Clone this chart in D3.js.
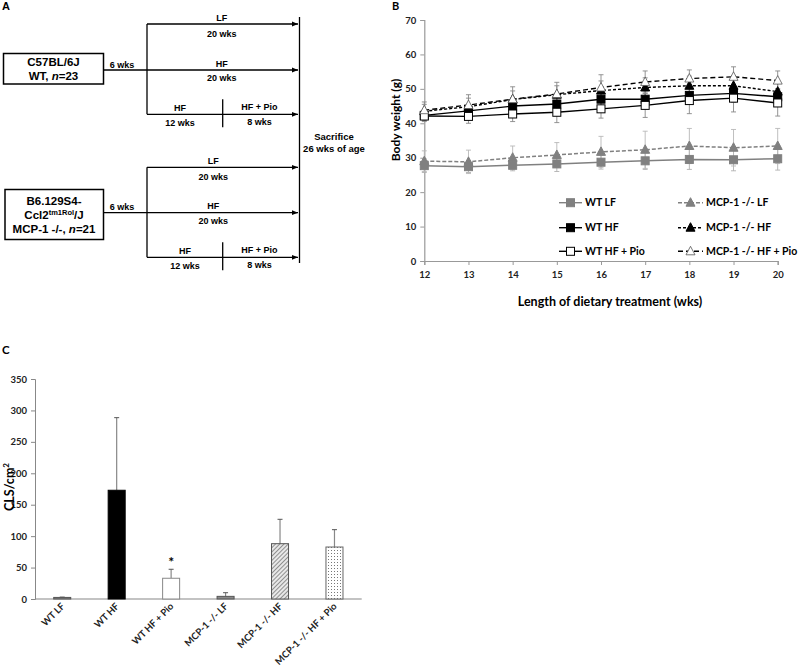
<!DOCTYPE html>
<html><head><meta charset="utf-8">
<script src="https://cdn.jsdelivr.net/npm/d3@7"></script>
<style>
body{margin:0;background:#fff;}
svg{display:block;}
.cal{font-family:Lato,"Open Sans",sans-serif;font-weight:bold;}
.ari{font-family:"Liberation Sans",Arial,sans-serif;font-weight:bold;}
</style></head>
<body>
<svg id="chart" width="800" height="667"></svg>
<script>
// ---------- DATA ----------
const weeks = [12,13,14,15,16,17,18,19,20];
const yTicksB = [0,10,20,30,40,50,60,70];
const wtLF       = [27.7,27.4,27.8,28.2,28.7,29.1,29.5,29.4,29.7];
const wtLFErr    = [2.0,1.7,1.6,2.2,2.0,2.5,2.9,3.2,3.3];
const mcpLF      = [29.0,28.8,30.0,30.8,31.7,32.3,33.4,32.9,33.4];
const mcpLFErr   = [3.0,3.4,3.4,3.6,4.5,5.4,5.1,5.3,5.1];
const wtHF       = [42.3,43.6,45.0,45.6,47.0,47.0,48.1,48.7,47.7];
const wtHFErr    = [1.5,1.6,1.8,2.0,2.2,2.4,2.5,2.6,2.4];
const wtHFPio    = [42.1,42.0,42.7,43.2,44.2,45.2,46.6,47.3,45.9];
const wtHFPioErr = [1.6,2.0,2.2,3.0,2.7,3.5,3.8,4.0,3.8];
const mcpHF      = [43.5,44.8,46.9,48.3,49.5,50.4,50.9,50.9,49.2];
const mcpHFErr   = [2.0,2.5,2.5,2.6,2.8,2.8,2.8,2.9,2.8];
const mcpHFPio   = [43.8,45.3,47.0,48.5,50.4,52.0,53.0,53.5,52.4];
const mcpHFPioErr= [2.4,3.0,3.6,3.4,3.7,3.2,2.5,2.9,2.8];
const seriesNames = ["WT LF","MCP-1 -/- LF","WT HF","MCP-1 -/- HF","WT HF + Pio","MCP-1 -/- HF + Pio"];

const groups = ["WT LF","WT HF","WT HF + Pio","MCP-1 -/- LF","MCP-1 -/- HF","MCP-1 -/- HF + Pio"];
const cls    = [2.5,173,33,4.2,88,82.7];
const clsErr = [0.5,115.5,14.3,5.8,38.8,27.6];
const yTicksC = [0,50,100,150,200,250,300,350];

// ---------- SETUP ----------
const svg = d3.select("#chart");
const defs = svg.append("defs");
defs.append("marker").attr("id","arr").attr("viewBox","0 0 10 10").attr("refX",10).attr("refY",5)
  .attr("markerWidth",5).attr("markerHeight",5).attr("orient","auto")
  .append("path").attr("d","M0,1L10,5L0,9z").attr("fill","#000");
const hatch = defs.append("pattern").attr("id","hatch").attr("patternUnits","userSpaceOnUse")
  .attr("width",3).attr("height",3).attr("patternTransform","rotate(45)");
hatch.append("rect").attr("width",3).attr("height",3).attr("fill","#e8e8e8");
hatch.append("line").attr("x1",0).attr("y1",0).attr("x2",0).attr("y2",3).attr("stroke","#555").attr("stroke-width",1.2);
const dots = defs.append("pattern").attr("id","dots").attr("patternUnits","userSpaceOnUse").attr("width",3).attr("height",3);
dots.append("rect").attr("width",3).attr("height",3).attr("fill","#fff");
dots.append("rect").attr("x",1).attr("y",1).attr("width",1).attr("height",1).attr("fill","#777");

// ---------- PANEL A ----------
const A = svg.append("g").attr("class","ari");
function t(g,x,y,s,size,anchor){return g.append("text").attr("x",x).attr("y",y).attr("font-size",size).attr("text-anchor",anchor||"middle").text(s);}
function ln(g,x1,y1,x2,y2,arrow){const l=g.append("line").attr("x1",x1).attr("y1",y1).attr("x2",x2).attr("y2",y2).attr("stroke","#000").attr("stroke-width",1.3); if(arrow) l.attr("marker-end","url(#arr)"); return l;}
t(A,2,10,"A",11,"start");
ln(A,299.5,17,299.5,263);
t(A,334,139.5,"Sacrifice",9.5);
t(A,334,151.5,"26 wks of age",9.5);
const fs=9;
function block(box, yTop, yMid, yBot, lfX, hfX, hf12X){
  A.append("rect").attr("x",box[0]).attr("y",box[1]).attr("width",box[2]).attr("height",box[3])
    .attr("fill","none").attr("stroke","#000").attr("stroke-width",1.5);
  ln(A,box[0]+box[2],yMid,147,yMid);
  t(A,122,yMid-2.5,"6 wks",fs);
  ln(A,147,yTop,147,yBot);
  ln(A,147,yTop,298,yTop,true);
  ln(A,147,yMid,298,yMid,true);
  ln(A,147,yBot,298,yBot,true);
  t(A,lfX,yTop-3.5,"LF",fs); t(A,lfX,yTop+12.5,"20 wks",fs);
  t(A,hfX,yMid-3.5,"HF",fs); t(A,hfX,yMid+11,"20 wks",fs);
  t(A,hf12X,yBot-3.5,"HF",fs); t(A,hf12X,yBot+11.5,"12 wks",fs);
  ln(A,222.7,yBot-15,222.7,yBot+13);
  t(A,259.5,yBot-4,"HF + Pio",fs); t(A,259.5,yBot+10.5,"8 wks",fs);
}
block([3.5,53.5,100,30.5],24,70,114.3,221.7,221.7,180);
t(A,53.5,66,"C57BL/6J",11.5);
const wtT = A.append("text").attr("x",53.5).attr("y",80).attr("font-size",11.5).attr("text-anchor","middle");
wtT.append("tspan").text("WT, "); wtT.append("tspan").attr("font-style","italic").text("n"); wtT.append("tspan").text("=23");
block([5,189.5,98.5,50],167.3,212.7,257.3,213.3,213.3,185);
t(A,54,205,"B6.129S4-",11.5);
const ccl = A.append("text").attr("x",54).attr("y",218.5).attr("font-size",11.5).attr("text-anchor","middle");
ccl.append("tspan").text("Ccl2"); ccl.append("tspan").attr("font-size",7.5).attr("dy",-4).text("tm1Rol");
ccl.append("tspan").attr("dy",4).text("/J");
const mT = A.append("text").attr("x",54).attr("y",233).attr("font-size",11.5).attr("text-anchor","middle");
mT.append("tspan").text("MCP-1 -/-, "); mT.append("tspan").attr("font-style","italic").text("n"); mT.append("tspan").text("=21");

// ---------- PANEL B ----------
const B = svg.append("g").attr("class","cal");
const xB = d3.scaleLinear().domain([12,20]).range([424.3,777.7]);
const yB = d3.scaleLinear().domain([0,70]).range([261,20]);
t(B,392,10,"B",11,"start");
const yAxB = B.append("g").attr("transform","translate(424.3,0)")
  .call(d3.axisLeft(yB).tickValues(yTicksB).tickSize(4).tickPadding(4));
const xAxB = B.append("g").attr("transform","translate(0,261)")
  .call(d3.axisBottom(xB).tickValues(weeks).tickSize(4).tickPadding(6).tickFormat(d3.format("d")));
[yAxB,xAxB].forEach(a=>{a.select(".domain").attr("stroke","#999").attr("stroke-width",1.2);
  a.selectAll(".tick line").attr("stroke","#999");
  a.selectAll("text").attr("font-family","Lato,sans-serif").attr("font-weight","bold").attr("font-size",9.5).attr("fill","#222");});
B.append("text").attr("transform","translate(400,120) rotate(-90)").attr("text-anchor","middle")
  .attr("font-size",12).text("Body weight (g)");
t(B,610,306,"Length of dietary treatment (wks)",12.5);

const series = [
  {v:wtLF, e:wtLFErr, col:"#808080", dash:null, mk:"sq", fill:"#808080", ecol:"#b0b0b0"},
  {v:mcpLF, e:mcpLFErr, col:"#808080", dash:"4,2", mk:"tri", fill:"#808080", ecol:"#b8b8b8"},
  {v:wtHF, e:wtHFErr, col:"#000", dash:null, mk:"sq", fill:"#000", ecol:"#888"},
  {v:mcpHF, e:mcpHFErr, col:"#000", dash:"3,2", mk:"tri", fill:"#000", ecol:"#888"},
  {v:wtHFPio, e:wtHFPioErr, col:"#000", dash:null, mk:"sq", fill:"#fff", ecol:"#888"},
  {v:mcpHFPio, e:mcpHFPioErr, col:"#000", dash:"5,3", mk:"tri", fill:"#fff", ecol:"#888"}
];
const lineGen = d3.line().x((d,i)=>xB(weeks[i])).y(d=>yB(d));
function marker(g,x,y,s){
  if(s.mk==="sq"){
    g.append("rect").attr("x",x-4).attr("y",y-4).attr("width",8).attr("height",8)
      .attr("fill",s.fill).attr("stroke",s.col==="#808080"?"#808080":"#000").attr("stroke-width",1);
  } else {
    g.append("path").attr("d",`M${x},${y-5}L${x+4.5},${y+3.5}L${x-4.5},${y+3.5}Z`)
      .attr("fill",s.fill).attr("stroke",s.fill==="#fff"?"#555":s.col).attr("stroke-width",s.fill==="#fff"?0.8:1);
  }
}
series.forEach(s=>{
  const g=B.append("g");
  s.v.forEach((v,i)=>{
    const x=xB(weeks[i]), y1=yB(v+s.e[i]), y2=yB(v-s.e[i]);
    g.append("line").attr("x1",x).attr("x2",x).attr("y1",y1).attr("y2",y2).attr("stroke",s.ecol).attr("stroke-width",0.9);
    [y1,y2].forEach(yy=>g.append("line").attr("x1",x-2.5).attr("x2",x+2.5).attr("y1",yy).attr("y2",yy).attr("stroke",s.ecol).attr("stroke-width",0.9));
  });
});
series.forEach(s=>{
  B.append("path").datum(s.v).attr("d",lineGen).attr("fill","none").attr("stroke",s.col)
    .attr("stroke-width",s.col==="#000"?1.4:1.5).attr("stroke-dasharray",s.dash);
  s.v.forEach((v,i)=>marker(B,xB(weeks[i]),yB(v),s));
});
const legRows=[202.7,227.7,251.3];
series.forEach((s,k)=>{
  const col=k%2, row=Math.floor(k/2);
  const x0 = col===0?559:678, x1 = col===0?582:703, y=legRows[row];
  B.append("line").attr("x1",x0).attr("x2",x1).attr("y1",y).attr("y2",y).attr("stroke",s.col)
    .attr("stroke-width",1.4).attr("stroke-dasharray",s.dash);
  marker(B,(x0+x1)/2,y,s);
  t(B,x1+3,y+3.5,seriesNames[k],10.5,"start");
});

// ---------- PANEL C ----------
const C = svg.append("g").attr("class","cal");
t(C,2,354,"C",11.5,"start");
const xC = d3.scaleBand().domain(groups).range([35,361.7]).paddingInner(0.6875).paddingOuter(0.34375);
const yC = d3.scaleLinear().domain([0,350]).range([599,379]);
const yAxC = C.append("g").attr("transform","translate(35,0)")
  .call(d3.axisLeft(yC).tickValues(yTicksC).tickSize(4).tickPadding(4));
yAxC.select(".domain").attr("stroke","#888");
yAxC.selectAll(".tick line").attr("stroke","#888");
yAxC.selectAll("text").attr("font-family","Lato,sans-serif").attr("font-weight","bold").attr("font-size",9.5).attr("fill","#222");
C.append("line").attr("x1",35).attr("x2",361.7).attr("y1",599).attr("y2",599).attr("stroke","#888").attr("stroke-width",1.2);
const cy = C.append("text").attr("transform","translate(14,487) rotate(-90)").attr("text-anchor","middle").attr("font-size",12.5);
cy.append("tspan").text("CLS/cm"); cy.append("tspan").attr("font-size",8).attr("dy",-5).text("2");
const fills=["#808080","#000","#fff","#8a8a8a","url(#hatch)","url(#dots)"];
const strokes=["#555","#000","#888","#555","#555","#666"];
groups.forEach((gname,i)=>{
  const x=xC(gname), w=xC.bandwidth(), cx=x+w/2;
  const ye=yC(cls[i]+clsErr[i]);
  C.append("line").attr("x1",cx).attr("x2",cx).attr("y1",ye).attr("y2",yC(cls[i])).attr("stroke","#888").attr("stroke-width",1.2);
  C.append("line").attr("x1",cx-2.5).attr("x2",cx+2.5).attr("y1",ye).attr("y2",ye).attr("stroke","#555").attr("stroke-width",1);
  C.append("rect").attr("x",x).attr("y",yC(cls[i])).attr("width",w).attr("height",yC(0)-yC(cls[i]))
    .attr("fill",fills[i]).attr("stroke",strokes[i]).attr("stroke-width",1);
  C.append("text").attr("transform",`translate(${cx+3},${607}) rotate(-45)`).attr("text-anchor","end")
    .attr("font-size",9.5).attr("fill","#222").text(gname);
});
t(C,xC("WT HF + Pio")+xC.bandwidth()/2,567,"*",14);
</script>
</body></html>
